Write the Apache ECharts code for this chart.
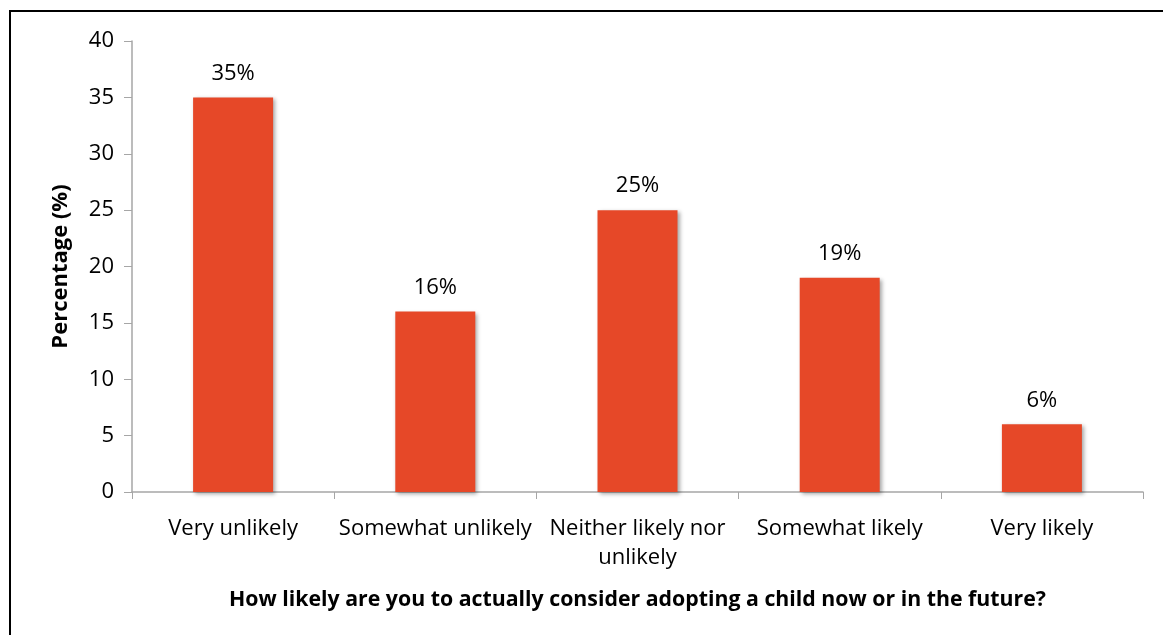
<!DOCTYPE html>
<html>
<head>
<meta charset="utf-8">
<script src="https://cdn.jsdelivr.net/npm/echarts@6/dist/echarts.min.js"></script>
<style>
  html, body { margin: 0; padding: 0; background: #fff; }
  #chart { width: 1163px; height: 635px; }
</style>
</head>
<body>
<div id="chart"></div>
<script>
const categories = ['Very unlikely', 'Somewhat unlikely', 'Neither likely nor\nunlikely', 'Somewhat likely', 'Very likely']
const values = [35, 16, 25, 19, 6]
const yTicks = [0, 5, 10, 15, 20, 25, 30, 35, 40]

const font = '"Open Sans", sans-serif'
const chart = echarts.init(document.getElementById('chart'))

const option = {
  animation: false,
  textStyle: { fontFamily: font },
  graphic: [
    {
      // only the top and left edges of the frame are visible
      type: 'rect',
      shape: { x: 10, y: 11, width: 1300, height: 800 },
      style: { fill: 'none', stroke: '#000', lineWidth: 2 },
      silent: true
    }
  ],
  grid: {
    left: 132,
    right: 20,
    top: 41,
    bottom: 143
  },
  xAxis: {
    type: 'category',
    data: categories,
    name: 'How likely are you to actually consider adopting a child now or in the future?',
    nameLocation: 'middle',
    nameGap: 97,
    nameTextStyle: { fontSize: 21.3, fontWeight: 'bold', color: '#000', fontFamily: font },
    axisLine: { lineStyle: { color: '#a6a6a6', width: 1.5 } },
    axisTick: { show: true, length: 7, alignWithLabel: false, lineStyle: { color: '#a6a6a6' } },
    axisLabel: { fontSize: 22, color: '#000', margin: 22, lineHeight: 29, interval: 0 }
  },
  yAxis: {
    type: 'value',
    min: yTicks[0],
    max: yTicks[yTicks.length - 1],
    interval: 5,
    name: 'Percentage (%)',
    nameLocation: 'middle',
    nameGap: 60,
    nameRotate: 90,
    nameTextStyle: { fontSize: 22, fontWeight: 'bold', color: '#000', fontFamily: font },
    axisLine: { show: true, lineStyle: { color: '#a6a6a6', width: 1.5 } },
    axisTick: { show: true, length: 8, inside: false, lineStyle: { color: '#a6a6a6' } },
    splitLine: { show: false },
    axisLabel: { fontSize: 22, color: '#000', margin: 18 }
  },
  series: [
    {
      type: 'bar',
      data: values,
      barWidth: 80,
      itemStyle: {
        color: '#e64828',
        shadowColor: 'rgba(0,0,0,0.35)',
        shadowBlur: 4,
        shadowOffsetX: 2,
        shadowOffsetY: 2
      },
      label: {
        show: true,
        position: 'top',
        distance: 13,
        formatter: '{c}%',
        fontSize: 22,
        color: '#000',
        fontFamily: font
      }
    }
  ]
}
chart.setOption(option)
</script>
</body>
</html>
